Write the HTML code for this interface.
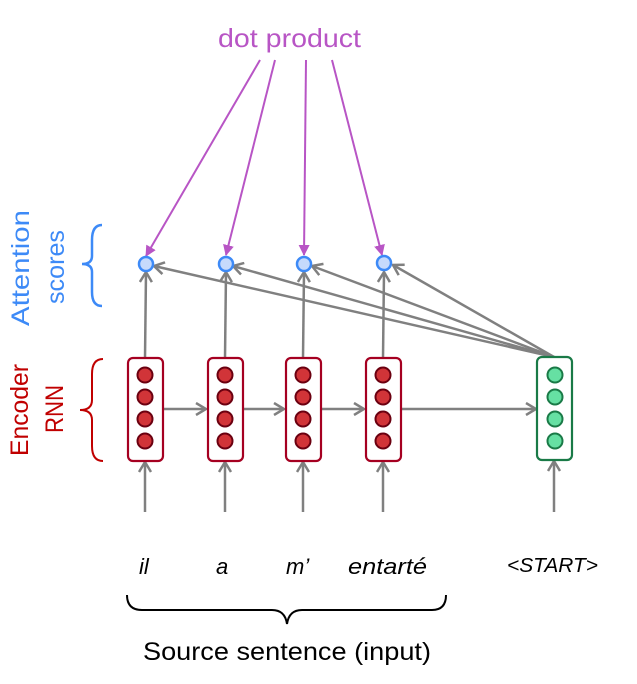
<!DOCTYPE html>
<html><head><style>body{margin:0;background:#fff}</style></head><body>
<svg width="637" height="679" xmlns="http://www.w3.org/2000/svg" font-family="Liberation Sans, sans-serif">
<defs>
<marker id="g" markerWidth="14" markerHeight="14" refX="11" refY="7" orient="auto" markerUnits="userSpaceOnUse"><path d="M1,1 L11,7 L1,13" fill="none" stroke="#808080" stroke-width="2.5"/></marker>
<marker id="p" markerWidth="11" markerHeight="11" refX="10" refY="5.5" orient="auto" markerUnits="userSpaceOnUse"><path d="M0,0 L11,5.5 L0,11 z" fill="#b855c5"/></marker>
</defs>
<text x="218" y="47" font-size="26" fill="#b855c5" textLength="143" lengthAdjust="spacingAndGlyphs">dot product</text>
<g stroke="#b855c5" stroke-width="2" marker-end="url(#p)">
<line x1="260" y1="60" x2="146" y2="256"/><line x1="275" y1="60" x2="226" y2="255"/>
<line x1="306" y1="60" x2="304" y2="255"/><line x1="332" y1="60" x2="382" y2="255"/>
</g>
<g stroke="#808080" stroke-width="2.5" fill="none" marker-end="url(#g)">
<line x1="554" y1="357" x2="154" y2="266"/><line x1="554" y1="357" x2="233" y2="266"/>
<line x1="554" y1="357" x2="312" y2="266"/><line x1="554" y1="357" x2="393" y2="265"/>
<line x1="145" y1="358" x2="146" y2="272"/><line x1="225" y1="358" x2="226" y2="272"/>
<line x1="303" y1="358" x2="304" y2="272"/><line x1="383" y1="358" x2="384" y2="272"/>
<line x1="163" y1="409" x2="206" y2="409"/><line x1="243" y1="409" x2="284" y2="409"/>
<line x1="321" y1="409" x2="364" y2="409"/><line x1="401" y1="409" x2="536" y2="409"/>
<line x1="145" y1="512" x2="145" y2="462"/><line x1="225" y1="512" x2="225" y2="462"/>
<line x1="303" y1="512" x2="303" y2="462"/><line x1="383" y1="512" x2="383" y2="462"/>
<line x1="554" y1="512" x2="554" y2="461"/>
</g>
<g fill="#c6dafc" stroke="#3d8af7" stroke-width="2.5">
<circle cx="146" cy="264" r="7"/><circle cx="226" cy="264" r="7"/><circle cx="304" cy="264" r="7"/><circle cx="384" cy="263" r="7"/>
</g>
<g fill="#fff" stroke="#a50021" stroke-width="2.2">
<rect x="128" y="358" width="35" height="103" rx="5"/><rect x="208" y="358" width="35" height="103" rx="5"/>
<rect x="286" y="358" width="35" height="103" rx="5"/><rect x="366" y="358" width="35" height="103" rx="5"/>
</g>
<rect x="537" y="357" width="35" height="103" rx="5" fill="#fff" stroke="#1a7a47" stroke-width="2.2"/>
<g fill="#d13438" stroke="#6b0010" stroke-width="2">
<circle cx="145" cy="375" r="7.5"/><circle cx="145" cy="397" r="7.5"/><circle cx="145" cy="419" r="7.5"/><circle cx="145" cy="441" r="7.5"/>
<circle cx="225" cy="375" r="7.5"/><circle cx="225" cy="397" r="7.5"/><circle cx="225" cy="419" r="7.5"/><circle cx="225" cy="441" r="7.5"/>
<circle cx="303" cy="375" r="7.5"/><circle cx="303" cy="397" r="7.5"/><circle cx="303" cy="419" r="7.5"/><circle cx="303" cy="441" r="7.5"/>
<circle cx="383" cy="375" r="7.5"/><circle cx="383" cy="397" r="7.5"/><circle cx="383" cy="419" r="7.5"/><circle cx="383" cy="441" r="7.5"/>
</g>
<g fill="#66e0a3" stroke="#1a7a47" stroke-width="2">
<circle cx="555" cy="375" r="7.5"/><circle cx="555" cy="397" r="7.5"/><circle cx="555" cy="419" r="7.5"/><circle cx="555" cy="441" r="7.5"/>
</g>
<path d="M102,225 Q92,225 92,240 L92,256 Q92,264 82,264 Q92,264 92,272 L92,292 Q92,306 102,306" fill="none" stroke="#3d8af7" stroke-width="2.5"/>
<path d="M103,359 Q92,359 92,374 L92,400 Q92,410 80,410 Q92,410 92,420 L92,446 Q92,461 103,461" fill="none" stroke="#c00000" stroke-width="2"/>
<text transform="translate(29,326) rotate(-90)" font-size="25" fill="#3d8af7" textLength="116" lengthAdjust="spacingAndGlyphs">Attention</text>
<text transform="translate(64,304) rotate(-90)" font-size="25" fill="#3d8af7" textLength="74" lengthAdjust="spacingAndGlyphs">scores</text>
<text transform="translate(28,456) rotate(-90)" font-size="25" fill="#c00000" textLength="92" lengthAdjust="spacingAndGlyphs">Encoder</text>
<text transform="translate(63,433) rotate(-90)" font-size="25" fill="#c00000" textLength="48" lengthAdjust="spacingAndGlyphs">RNN</text>
<g font-size="22" font-style="italic" fill="#000">
<text x="139" y="574">il</text>
<text x="216" y="574">a</text>
<text x="286" y="574">m’</text>
<text x="348" y="574" textLength="79" lengthAdjust="spacingAndGlyphs">entarté</text>
<text x="507" y="572" font-size="20" textLength="91" lengthAdjust="spacingAndGlyphs">&lt;START&gt;</text>
</g>
<path d="M127,595 Q127,610 142,610 L272,610 Q285,610 287,624 Q289,610 302,610 L432,610 Q446,610 446,595" fill="none" stroke="#000" stroke-width="2"/>
<text x="143" y="660" font-size="25" fill="#000" textLength="288" lengthAdjust="spacingAndGlyphs">Source sentence (input)</text>
</svg>
</body></html>
